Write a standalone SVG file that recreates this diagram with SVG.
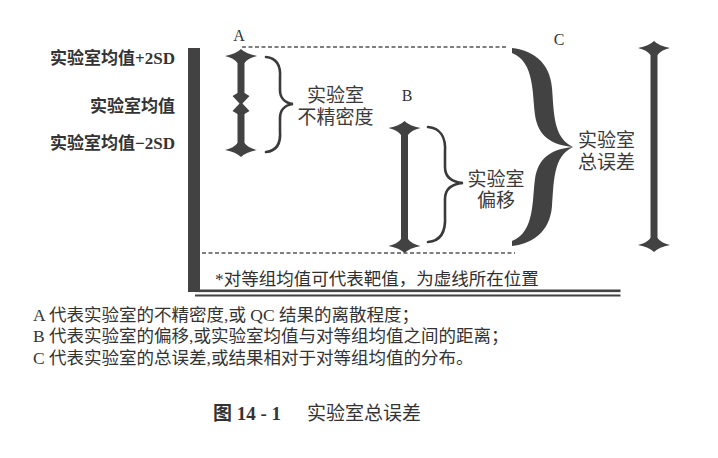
<svg xmlns="http://www.w3.org/2000/svg" width="718" height="458" viewBox="0 0 718 458">
<style>
  .t { font-family: "Liberation Serif", "Noto Sans CJK SC", serif; fill: #2f2f2f; }
  .lbl { font-size: 17px; font-weight: bold; fill: #333333; text-anchor: end; }
  .mid { font-size: 19px; text-anchor: middle; fill: #3a3a3a; }
  .letter { font-size: 16px; text-anchor: middle; fill: #333; }
  .note { font-size: 17.5px; fill: #2f2f2f; }
  .body { font-size: 17.5px; fill: #333; }
  .cap { font-size: 19px; fill: #333; }
  .ink { fill: #424242; }
  .dash { stroke: #555; stroke-width: 1.4; stroke-dasharray: 4 2.5; fill: none; }
  .brace { fill: none; stroke: #3a3a3a; stroke-width: 2.6; stroke-linecap: round; }
</style>
<defs>
  <path id="head" d="M0,0 Q5,5 16,7 Q7,9 3.5,14 L-3.5,14 Q-7,9 -16,7 Q-5,5 0,0 Z"/>
</defs>
<rect width="718" height="458" fill="#ffffff"/>

<g id="axis" class="ink">
  <rect x="188" y="48" width="12" height="244"/>
  <rect x="195" y="289.5" width="425.5" height="2.6"/>
  <rect x="195" y="294.5" width="425.5" height="2"/>
</g>

<g id="connectors">
  <line class="dash" x1="242" y1="47" x2="508" y2="47"/>
  <line class="dash" x1="202" y1="253" x2="515" y2="253"/>
</g>

<g id="left-labels" class="t">
  <text class="t lbl" x="175" y="64">实验室均值+2SD</text>
  <text class="t lbl" x="175" y="112">实验室均值</text>
  <text class="t lbl" x="175" y="149">实验室均值−2SD</text>
</g>

<g id="arrow-A" class="ink">
  <text class="t letter" x="239" y="41">A</text>
  <use href="#head" transform="translate(241,49)"/>
  <rect x="237.5" y="60" width="7" height="35"/>
  <polygon points="237.5,93 232.5,96 239.5,103.5 232.5,111 237.5,114 244.5,114 249.5,111 242.5,103.5 249.5,96 244.5,93"/>
  <rect x="237.5" y="112" width="7" height="35"/>
  <use href="#head" transform="translate(241,157) scale(1,-1)"/>
</g>

<g id="brace-A">
  <path class="brace" d="M266,57 C276,58 281,65 280,78 L280,90 C280,98 285,103 293,104 C285,105 280,110 280,118 L280,131 C281,144 276,151 266,152"/>
  <text class="t mid" x="335.5" y="102">实验室</text>
  <text class="t mid" x="335.5" y="124">不精密度</text>
</g>

<g id="arrow-B" class="ink">
  <text class="t letter" x="407" y="101">B</text>
  <use href="#head" transform="translate(404.5,121)"/>
  <rect x="401" y="132" width="7" height="110"/>
  <use href="#head" transform="translate(404.5,253) scale(1,-1)"/>
</g>

<g id="brace-B">
  <path class="brace" d="M428,127 C440,128 446,137 445,152 L445,167 C445,177 451,182 463,183 C451,184 445,189 445,199 L445,216 C446,232 440,241 428,242"/>
  <text class="t mid" x="496" y="186">实验室</text>
  <text class="t mid" x="496" y="207">偏移</text>
</g>

<g id="brace-C" class="ink">
  <text class="t letter" x="559" y="45">C</text>
  <path d="M512,48 C532,50 550,62 552,88 C554,112 553,138 573,147 C550,145 538,135 535,115 C532,95 535,62 512,53 Z"/>
  <path d="M512,246 C532,244 550,232 552,206 C554,182 553,156 573,147 C550,149 538,159 535,179 C532,199 535,232 512,241 Z"/>
  <text class="t mid" x="606.5" y="147">实验室</text>
  <text class="t mid" x="606.5" y="169">总误差</text>
</g>

<g id="arrow-C" class="ink">
  <use href="#head" transform="translate(654,41)"/>
  <rect x="650.5" y="52" width="7" height="189"/>
  <use href="#head" transform="translate(654,252) scale(1,-1)"/>
</g>

<g id="footnote">
  <text class="t note" x="215" y="285">*对等组均值可代表靶值，为虚线所在位置</text>
</g>

<g id="legend">
  <text class="t body" x="33" y="321">A 代表实验室的不精密度,或 QC 结果的离散程度；</text>
  <text class="t body" x="33" y="342">B 代表实验室的偏移,或实验室均值与对等组均值之间的距离；</text>
  <text class="t body" x="33" y="364">C 代表实验室的总误差,或结果相对于对等组均值的分布。</text>
</g>

<g id="caption">
  <text class="t cap" x="213" y="420"><tspan font-weight="bold">图 14 - 1</tspan><tspan x="307">实验室总误差</tspan></text>
</g>
</svg>
